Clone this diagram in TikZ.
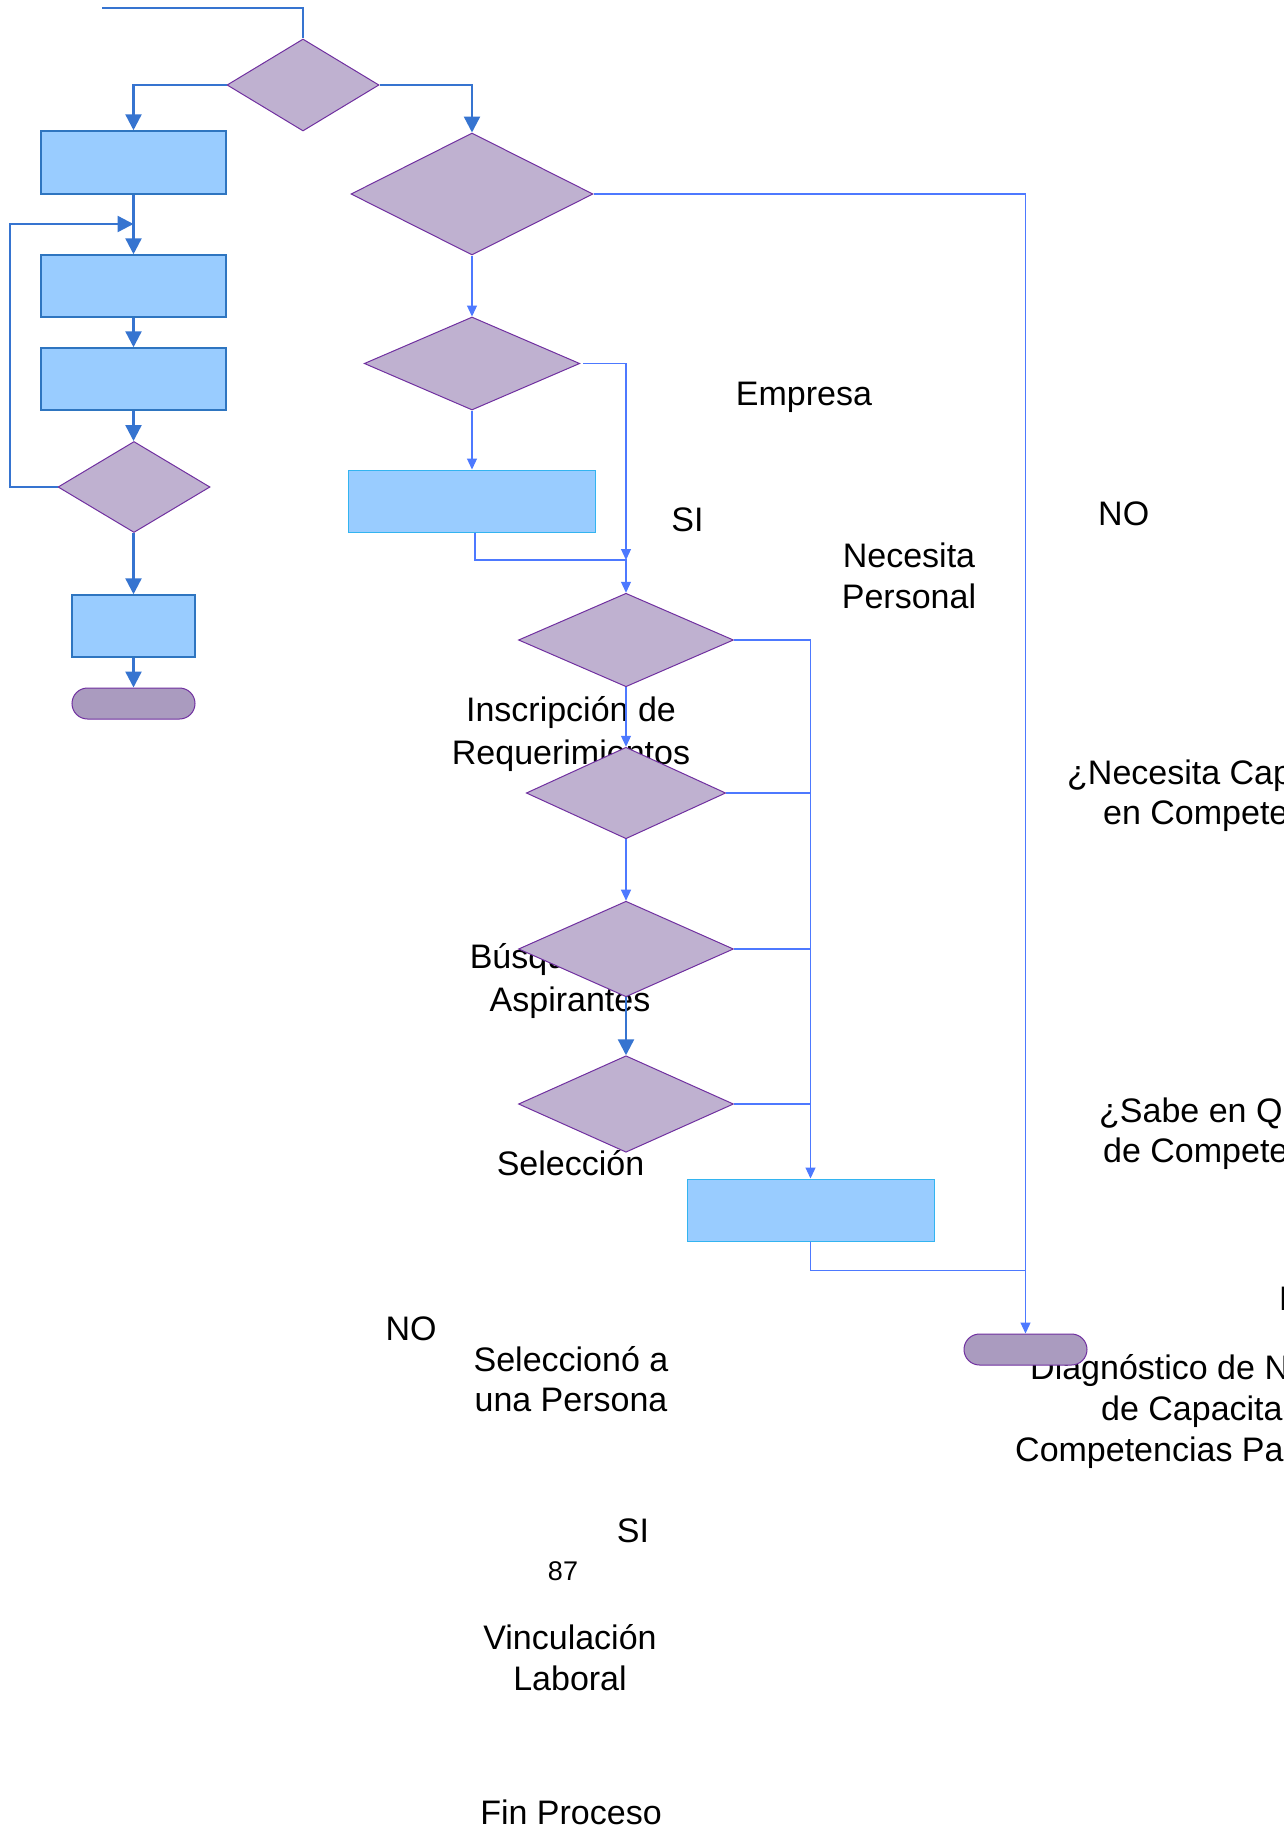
\documentclass[tikz,border=0pt]{standalone}
\usepackage{fontspec}
\setmainfont{Liberation Sans}
\usetikzlibrary{arrows.meta,shapes.geometric}
\definecolor{dfill}{RGB}{191,177,208}
\definecolor{dline}{RGB}{112,48,160}
\definecolor{bfill}{RGB}{153,204,255}
\definecolor{bline}{RGB}{46,117,192}
\definecolor{bline2}{RGB}{51,180,240}
\definecolor{tfill}{RGB}{170,155,191}
\definecolor{darr}{RGB}{54,116,208}
\definecolor{tarr}{RGB}{77,121,255}
\begin{document}
\begin{tikzpicture}[x=1pt,y=-1pt,
  dia/.style={shape=diamond, draw=dline, fill=dfill, line width=1pt, inner sep=0pt},
  boxa/.style={shape=rectangle, draw=bline, fill=bfill, line width=1.5pt, inner sep=0pt},
  boxb/.style={shape=rectangle, draw=bline2, fill=bfill, line width=1pt, inner sep=0pt},
  term/.style={shape=rectangle, rounded corners=15.5pt, draw=dline, fill=tfill, line width=1pt, inner sep=0pt, minimum width=123pt, minimum height=31pt},
  dk/.style={draw=darr, line width=2.4pt, -{Triangle[length=16pt,width=16pt]}},
  dkn/.style={draw=darr, line width=2.4pt},
  tn/.style={draw=tarr, line width=1.2pt, -{Triangle[length=11pt,width=10pt]}},
  tnn/.style={draw=tarr, line width=1.2pt},
  txt/.style={font=\fontsize{34}{42}\selectfont, inner sep=0pt, anchor=base},
  txtl/.style={font=\fontsize{34}{42}\selectfont, inner sep=0pt, anchor=base west},
  small/.style={font=\fontsize{27}{32}\selectfont, inner sep=0pt, anchor=base}]
\useasboundingbox (0,0) rectangle (1283,1828);
\clip (0,0) rectangle (1283,1828);
\fill[white] (0,0) rectangle (1283,1828);

% texts (behind shapes)
\node[txt] (empresa) at (804,405) {Empresa};
\node[txt] (si1) at (687.5,531) {SI};
\node[txtl] (no1) at (1098,525) {NO};
\node[txt] (nec1) at (909,567) {Necesita};
\node[txt] (nec2) at (909,608.6) {Personal};
\node[txt] (ins1) at (571,721.6) {Inscripción de};
\node[txt] (ins2) at (571,764) {Requerimientos};
\node[txt] (bus1) at (570,968) {Búsqueda de};
\node[txt] (bus2) at (570,1011) {Aspirantes};
\node[txt] (sel) at (570.5,1175) {Selección};
\node[txt] (no2) at (411,1340) {NO};
\node[txt] (seln1) at (571,1371) {Seleccionó a};
\node[txt] (seln2) at (571,1411.5) {una Persona};
\node[txt] (si2) at (633,1542) {SI};
\node[small] (pg) at (563,1580) {87};
\node[txt] (vin1) at (570,1649) {Vinculación};
\node[txt] (vin2) at (570,1690) {Laboral};
\node[txt] (fin) at (571,1824) {Fin Proceso};
\node[txtl] (cap1) at (1067,784) {¿Necesita Capacitación};
\node[txtl] (cap2) at (1103,824.5) {en Competencias};
\node[txtl] (sab1) at (1099,1122.6) {¿Sabe en Qué};
\node[txtl] (sab2) at (1103,1162.6) {de Competencias};
\node[txtl] (no3) at (1279,1310) {NO};
\node[txtl] (dg1) at (1030,1379) {Diagnóstico de Necesidades};
\node[txtl] (dg2) at (1101,1420) {de Capacitación};
\node[txtl] (dg3) at (1015,1461) {Competencias Para};

% shapes
\node[dia, minimum width=152pt, minimum height=92pt] (d1) at (303,85) {};
\node[dia, minimum width=242pt, minimum height=122pt] (d2) at (472,194) {};
\node[dia, minimum width=215.5pt, minimum height=93pt] (d4) at (472,363.5) {};
\node[dia, minimum width=152pt, minimum height=91pt] (d3) at (134,487) {};
\node[dia, minimum width=215pt, minimum height=93.5pt] (d5) at (626,640) {};
\node[dia, minimum width=199.4pt, minimum height=91.5pt] (d6) at (626,793) {};
\node[dia, minimum width=215pt, minimum height=95.6pt] (d7) at (626,949) {};
\node[dia, minimum width=215pt, minimum height=96.5pt] (d8) at (626,1104) {};

\node[boxa, minimum width=185pt, minimum height=63pt] (b1) at (133.5,162.5) {};
\node[boxa, minimum width=185pt, minimum height=62pt] (b2) at (133.5,286) {};
\node[boxa, minimum width=185pt, minimum height=62pt] (b3) at (133.5,379) {};
\node[boxa, minimum width=123pt, minimum height=62pt] (b5) at (133.5,626) {};
\node[boxb, minimum width=246.5pt, minimum height=62pt] (b4) at (472,501) {};
\node[boxb, minimum width=247pt, minimum height=62pt] (b6) at (810.5,1210) {};

\node[term] (t1) at (133.5,703.5) {};
\node[term] (t2) at (1025.5,1349.5) {};

% left connectors
\coordinate (start) at (102,8);
\coordinate (lp) at (10,224);
\draw[dkn] (start) -| (d1.north);
\draw[dk] (d1.west) -| (b1.north);
\draw[dk] (d1.east) -| (d2.north);
\draw[dk] (b1.south) -- (b2.north);
\draw[dk] (d3.west) -| (lp) -- (b1.south |- lp);
\draw[dk] (b2.south) -- (b3.north);
\draw[dk] (b3.south) -- (d3.north -| b3.south);
\draw[dk] (d3.south -| b5.north) -- (b5.north);
\draw[dk] (b5.south) -- (t1.north);

% right connectors
\coordinate (j1) at (626,560);
\coordinate (bus) at (810.5,640);
\coordinate (j2) at (1025.5,1270.6);
\draw[tn] (d2.south) -- (d4.north);
\draw[tn] (d4.south) -- (b4.north);
\draw[tn] ([xshift=3pt]d4.east) -| (j1);
\draw[tn] ([xshift=3pt]b4.south) |- (j1) -- (d5.north);
\draw[tn] (d5.south) -- (d6.north);
\draw[tn] (d6.south) -- (d7.north);
\draw[dk] (d7.south) -- (d8.north);
\draw[tnn] (d5.east) -- (d5.east -| bus);
\draw[tnn] (d6.east) -- (d6.east -| bus);
\draw[tnn] (d7.east) -- (d7.east -| bus);
\draw[tnn] (d8.east) -- (d8.east -| bus);
\draw[tn] (bus) -- (b6.north);
\draw[tnn] (b6.south) |- (j2);
\draw[tn] (d2.east) -| (t2.north);
\end{tikzpicture}
\end{document}
